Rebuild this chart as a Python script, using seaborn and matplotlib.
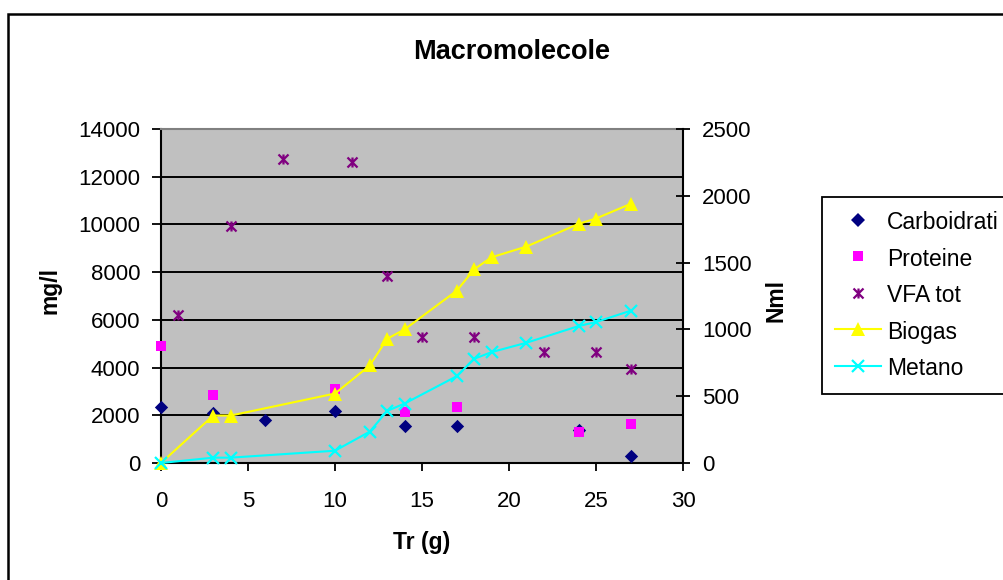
import matplotlib
matplotlib.use("Agg")
import matplotlib.pyplot as plt
from matplotlib.lines import Line2D
from matplotlib.path import Path
from matplotlib.patches import Rectangle
import seaborn as sns

plt.rcParams['font.family'] = ['Liberation Sans', 'DejaVu Sans']

# Concentrations (mg/l) against retention time Tr (days)
carb_tr = [0, 3, 6, 10, 14, 17, 24, 27]
carb_val = [2350, 2100, 1800, 2200, 1550, 1550, 1380, 300]

prot_tr = [0, 3, 10, 14, 17, 24, 27]
prot_val = [4900, 2850, 3120, 2120, 2330, 1290, 1620]

vfa_tr = [1, 4, 7, 11, 13, 15, 18, 22, 25, 27]
vfa_val = [6200, 9930, 12750, 12600, 7840, 5280, 5280, 4650, 4650, 3950]

# Cumulative gas production (Nml)
gas_tr = [0, 3, 4, 10, 12, 13, 14, 17, 18, 19, 21, 24, 25, 27]
biogas_val = [0, 355, 355, 520, 730, 930, 1000, 1290, 1450, 1540, 1620, 1790, 1830, 1940]
metano_val = [0, 40, 40, 92, 235, 390, 445, 650, 780, 830, 900, 1025, 1055, 1140]

x_ticks = [0, 5, 10, 15, 20, 25, 30]
left_ticks = [0, 2000, 4000, 6000, 8000, 10000, 12000, 14000]
right_ticks = [0, 500, 1000, 1500, 2000, 2500]

NAVY, MAGENTA, PURPLE = '#000080', '#FF00FF', '#800080'
YELLOW, CYAN = '#FFFF00', '#00FFFF'

# Asterisk marker: an X crossed by a vertical bar
star = Path([(-1, -1), (1, 1), (-1, 1), (1, -1), (0, -1), (0, 1)],
            [Path.MOVETO, Path.LINETO] * 3)

W, H = 1004, 580
fig = plt.figure(figsize=(W / 100, H / 100), dpi=100)
fig.patch.set_facecolor('white')

ax = fig.add_axes([161 / W, 1 - 463 / H, (683 - 161) / W, (463 - 129) / H])
ax.set_facecolor('#C0C0C0')
ax2 = ax.twinx()

sns.scatterplot(x=carb_tr, y=carb_val, ax=ax, marker='D', s=46, color=NAVY,
                linewidth=0, clip_on=False, zorder=3)
sns.scatterplot(x=prot_tr, y=prot_val, ax=ax, marker='s', s=62, color=MAGENTA,
                linewidth=0, clip_on=False, zorder=3)
sns.scatterplot(x=vfa_tr, y=vfa_val, ax=ax, marker=star, s=52, color=PURPLE,
                edgecolor=PURPLE, linewidth=1.6, clip_on=False, zorder=3)

sns.lineplot(x=gas_tr, y=biogas_val, ax=ax2, color=YELLOW, linewidth=1.5,
             marker='^', markersize=10, markeredgewidth=0, markerfacecolor=YELLOW,
             estimator=None, sort=False, clip_on=False)
sns.lineplot(x=gas_tr, y=metano_val, ax=ax2, color=CYAN, linewidth=1.5,
             marker='x', markersize=8, markeredgewidth=1.6, markeredgecolor=CYAN,
             estimator=None, sort=False, clip_on=False)

ax.set_xlim(0, 30)
ax.set_ylim(0, 14000)
ax2.set_ylim(0, 2500)
ax.set_xticks(x_ticks)
ax.set_xticklabels([str(v) for v in x_ticks])
ax.set_yticks(left_ticks)
ax.set_yticklabels([str(v) for v in left_ticks])
ax2.set_yticks(right_ticks)
ax2.set_yticklabels([str(v) for v in right_ticks])
ax.set_xlabel('')
ax.set_ylabel('')
ax2.set_ylabel('')

ax.set_axisbelow(True)
ax.yaxis.grid(True, color='black', linewidth=1.4)
ax.xaxis.grid(False)

for side in ['left', 'bottom']:
    ax.spines[side].set_color('black')
    ax.spines[side].set_linewidth(1.5)
ax.spines['top'].set_color('#808080')
ax.spines['top'].set_linewidth(1.5)
ax.spines['right'].set_visible(False)
for side in ['left', 'bottom', 'top']:
    ax2.spines[side].set_visible(False)
ax2.spines['right'].set_color('black')
ax2.spines['right'].set_linewidth(1.5)

ax.tick_params(axis='y', direction='out', length=6.5, width=1.3, pad=8.6,
               labelsize=16, colors='black')
ax.tick_params(axis='x', direction='out', length=6, width=1.3, pad=14,
               labelsize=16, colors='black')
ax2.tick_params(axis='y', direction='inout', length=9.5, width=1.3, pad=8.8,
                labelsize=16, colors='black')

fig.text(512 / W, 1 - 52 / H, 'Macromolecole', ha='center', va='center',
         fontsize=19.5, fontweight='bold')
fig.text(422 / W, 1 - 543 / H, 'Tr (g)', ha='center', va='center',
         fontsize=16.5, fontweight='bold')
fig.text(50 / W, 1 - 291 / H, 'mg/l', ha='center', va='center', rotation=90,
         fontsize=16.5, fontweight='bold')
fig.text(776 / W, 1 - 300 / H, 'Nml', ha='center', va='center', rotation=90,
         fontsize=16.5, fontweight='bold')

handles = [
    Line2D([], [], ls='', marker='D', ms=6.8, mew=0, color=NAVY),
    Line2D([], [], ls='', marker='s', ms=7.8, mew=0, color=MAGENTA),
    Line2D([], [], ls='', marker=star, ms=7.2, mew=1.6, color=PURPLE),
    Line2D([], [], color=YELLOW, lw=1.5, marker='^', ms=10, mew=0),
    Line2D([], [], color=CYAN, lw=1.5, marker='x', ms=8, mew=1.6),
]
labels = ['Carboidrati', 'Proteine', 'VFA tot', 'Biogas', 'Metano']
leg = fig.legend(handles, labels, loc='upper left',
                 bbox_to_anchor=(822 / W, 1 - 197 / H), bbox_transform=fig.transFigure,
                 frameon=True, fancybox=False, edgecolor='black', framealpha=1,
                 borderaxespad=0, fontsize=16.5, handlelength=2.0, handletextpad=0.25,
                 handleheight=1.15, labelspacing=0.54, borderpad=0.58)
leg.get_frame().set_linewidth(1.3)

# Outer chart border
fig.add_artist(Rectangle((7.8 / W, -0.1), 1.2, (1 - 13.8 / H) + 0.1,
                         transform=fig.transFigure, fill=False,
                         edgecolor='black', linewidth=1.8))

fig.savefig('out.png', dpi=100)
